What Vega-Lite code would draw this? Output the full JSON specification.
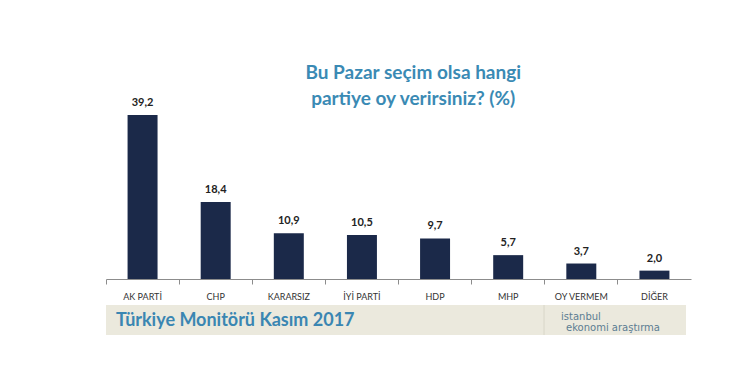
{
  "$schema": "https://vega.github.io/schema/vega-lite/v6.json",
  "padding": {"left": 105, "top": 63, "right": 5, "bottom": 5},
  "background": "white",
  "config": {
    "font": "Lato",
    "locale": {"number": {"decimal": ",", "thousands": ".", "grouping": [3], "currency": ["", " TL"]}},
    "view": {"stroke": null},
    "concat": {"spacing": 3}
  },
  "title": {
    "text": ["Bu Pazar seçim olsa hangi", "partiye oy verirsiniz? (%)"],
    "anchor": "middle",
    "dx": 15,
    "offset": -12,
    "fontSize": 19,
    "lineHeight": 26,
    "fontWeight": "bold",
    "color": "#3a8ab4",
    "font": "Lato"
  },
  "datasets": {
    "parties": [
      {"party": "AK PARTİ", "pct": 39.2},
      {"party": "CHP", "pct": 18.4},
      {"party": "KARARSIZ", "pct": 10.9},
      {"party": "İYİ PARTİ", "pct": 10.5},
      {"party": "HDP", "pct": 9.7},
      {"party": "MHP", "pct": 5.7},
      {"party": "OY VERMEM", "pct": 3.7},
      {"party": "DİĞER", "pct": 2.0}
    ],
    "banner": [
      {"text": "Türkiye Monitörü Kasım 2017", "logo1": "istanbul", "logo2": "ekonomi araştırma"}
    ]
  },
  "vconcat": [
    {
      "width": 585,
      "height": 180,
      "data": {"name": "parties"},
      "encoding": {
        "x": {
          "field": "party",
          "type": "nominal",
          "sort": null,
          "scale": {"paddingInner": 0, "paddingOuter": 0},
          "axis": {
            "title": null,
            "labelAngle": 0,
            "labelFontSize": 9,
            "labelColor": "#333333",
            "labelPadding": 8,
            "domainColor": "#8c8c8c",
            "tickColor": "#8c8c8c",
            "tickSize": 5,
            "bandPosition": 0,
            "labelFont": "Lato"
          }
        },
        "y": {
          "field": "pct",
          "type": "quantitative",
          "scale": {"domain": [0, 43]},
          "axis": null
        }
      },
      "layer": [
        {
          "mark": {"type": "bar", "color": "#1b2949", "width": {"band": 0.41}}
        },
        {
          "mark": {"type": "text", "baseline": "bottom", "dy": -7, "fontSize": 11, "fontWeight": "bold", "color": "#222222", "font": "Lato"},
          "encoding": {"text": {"field": "pct", "type": "quantitative", "format": ".1f"}}
        }
      ]
    },
    {
      "width": 580,
      "height": 30,
      "data": {"name": "banner"},
      "view": {"fill": "#ebe9dd", "stroke": null},
      "layer": [
        {
          "mark": {"type": "text", "align": "left", "baseline": "middle", "fontSize": 18, "fontWeight": "bold", "color": "#3a86b2", "font": "Lato"},
          "encoding": {"text": {"field": "text"}, "x": {"value": 10}, "y": {"value": 16}}
        },
        {
          "mark": {"type": "rule", "color": "#d8d6c8", "strokeWidth": 1},
          "encoding": {"x": {"value": 438}, "y": {"value": 0}, "y2": {"value": 30}}
        },
        {
          "mark": {"type": "text", "align": "left", "baseline": "middle", "fontSize": 10, "color": "#5c7d92", "font": "DejaVu Sans"},
          "encoding": {"text": {"field": "logo1"}, "x": {"value": 455}, "y": {"value": 12}}
        },
        {
          "mark": {"type": "text", "align": "left", "baseline": "middle", "fontSize": 10, "color": "#5c7d92", "font": "DejaVu Sans"},
          "encoding": {"text": {"field": "logo2"}, "x": {"value": 460}, "y": {"value": 23}}
        }
      ]
    }
  ]
}
